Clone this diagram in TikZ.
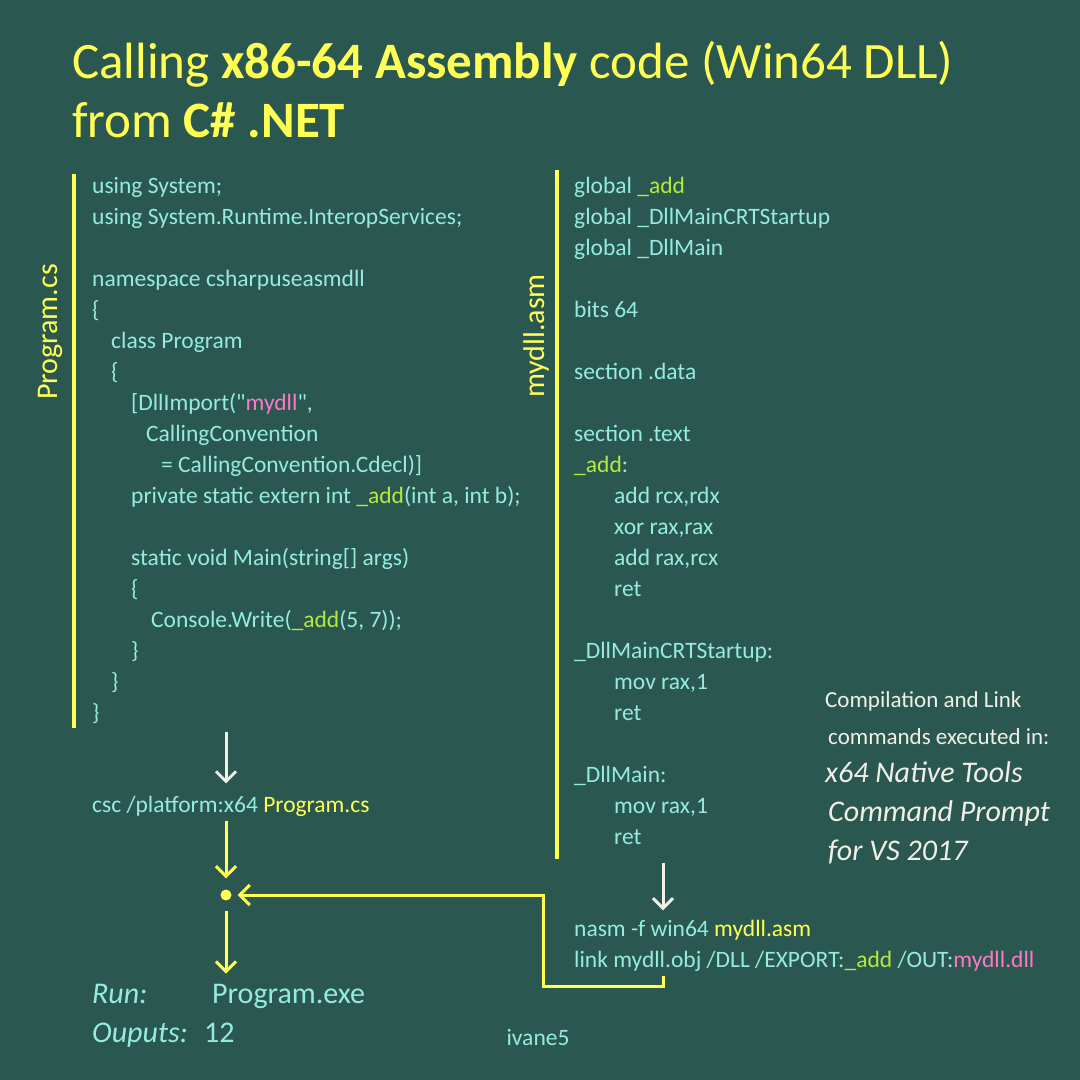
\documentclass[tikz,border=0pt]{standalone}
\usepackage{fontspec}
\setmainfont{Carlito}
\usetikzlibrary{arrows.meta}
\definecolor{bgteal}{HTML}{2A5850}
\definecolor{codecyan}{HTML}{96EBE1}
\definecolor{titleyellow}{HTML}{FFFF55}
\definecolor{addgreen}{HTML}{B4EB3C}
\definecolor{dllpink}{HTML}{FF78C8}
\definecolor{notewhite}{HTML}{F0F0E8}
\newcommand{\grn}[1]{\textcolor{addgreen}{#1}}
\newcommand{\pnk}[1]{\textcolor{dllpink}{#1}}
\newcommand{\ylw}[1]{\textcolor{titleyellow}{#1}}
\begin{document}
\begin{tikzpicture}[x=1pt,y=-1pt,every node/.style={inner sep=0},
	code/.style={font=\fontsize{23.5}{31}\selectfont,text=codecyan,align=left,anchor=north west},
	cmd/.style={font=\fontsize{23.5}{31}\selectfont,text=codecyan,anchor=base west},
	big/.style={font=\fontsize{30}{36}\selectfont,text=codecyan,anchor=base west},
	filelabel/.style={font=\fontsize{30}{36}\selectfont,text=titleyellow,rotate=90},
	bar/.style={draw=titleyellow,line width=4pt},
	warrow/.style={draw=notewhite,line width=3pt,-{Straight Barb[length=10pt,width=20pt]}},
	yarrow/.style={draw=titleyellow,line width=3pt,-{Straight Barb[length=10pt,width=20pt]}}]
\fill[bgteal] (0,0) rectangle (1080,1080);
\useasboundingbox (0,0) rectangle (1080,1080);

\node[code,font=\fontsize{51}{59}\selectfont,text=titleyellow] (title) at (72,36.7)
	{\strut Calling \textbf{x86-64 Assembly} code (Win64 DLL)\\ from \textbf{C\# .NET}};

% C# side
\node[code] (progcode) at (92,171.3) {\strut using System;\\
	using System.Runtime.InteropServices;\\[31pt]
	namespace csharpuseasmdll\\
	\{\\
	\hspace*{19pt}class Program\\
	\hspace*{19pt}\{\\
	\hspace*{39pt}[DllImport(\textquotedbl\pnk{mydll}\textquotedbl,\\
	\hspace*{54pt}CallingConvention\\
	\hspace*{69pt}= CallingConvention.Cdecl)]\\
	\hspace*{39pt}private static extern int \grn{\_add}(int a, int b);\\[31pt]
	\hspace*{39pt}static void Main(string[] args)\\
	\hspace*{39pt}\{\\
	\hspace*{59pt}Console.Write(\grn{\_add}(5, 7));\\
	\hspace*{39pt}\}\\
	\hspace*{19pt}\}\\
	\}};
\draw[bar] (74,174) -- (74,728);
\node[filelabel] (proglabel) at (50,332) {Program.cs};

% asm side
\node[code] (asmcode) at (574,171.3) {\strut global \grn{\_add}\\
	global \_DllMainCRTStartup\\
	global \_DllMain\\[31pt]
	bits 64\\[31pt]
	section .data\\[31pt]
	section .text\\
	\grn{\_add}:\\
	\hspace*{40pt}add rcx,rdx\\
	\hspace*{40pt}xor rax,rax\\
	\hspace*{40pt}add rax,rcx\\
	\hspace*{40pt}ret\\[31pt]
	\_DllMainCRTStartup:\\
	\hspace*{40pt}mov rax,1\\
	\hspace*{40pt}ret\\[31pt]
	\_DllMain:\\
	\hspace*{40pt}mov rax,1\\
	\hspace*{40pt}ret};
\draw[bar] (557,170) -- (557,859);
\node[filelabel] (asmlabel) at (536,336) {mydll.asm};

% commands
\node[cmd] (csc) at (92,812) {csc /platform:x64 \ylw{Program.cs}};
\node[code] (nasm) at (574,914.3) {\strut nasm -f win64 \ylw{mydll.asm}\\
	link mydll.obj /DLL /EXPORT:\grn{\_add} /OUT:\pnk{mydll.dll}};
\node[code,text=notewhite,font=\fontsize{23}{31}\selectfont] (notehead) at (825,685.3)
	{\strut Compilation and Link\\[6pt] \hspace*{3pt}commands executed in:};
\node[code,text=notewhite,font=\fontsize{30}{39}\selectfont\itshape] (tools) at (825,754.7)
	{\strut x64 Native Tools\\ \hspace*{3pt}Command Prompt\\ \hspace*{3pt}for VS 2017};

\node[circle,fill=titleyellow,minimum size=11pt] (join) at (226,895) {};
\coordinate (tail) at (663,986);

\node[big,font=\fontsize{30}{36}\selectfont\itshape] (run) at (92,1003) {Run:};
\node[big] (exe) at (212,1003) {Program.exe};
\node[big,font=\fontsize{30}{36}\selectfont\itshape] (outlbl) at (92,1042) {Ouputs:};
\node[big] (result) at (204,1042) {12};
\node[cmd,anchor=base] (author) at (538,1045) {ivane5};

% arrows
\draw[warrow,shorten <=8pt,shorten >=12pt] (progcode.south -| join) -- (csc.north -| join);
\draw[warrow,shorten <=18pt,shorten >=4pt] (asmcode.south -| tail) -- (nasm.north -| tail);
\draw[yarrow,shorten <=5pt,shorten >=11pt] (csc.south -| join) -- (join);
\draw[yarrow,shorten <=10pt,shorten >=10pt] (join) -- (join |- exe.north);
\draw[yarrow,shorten <=5pt,shorten >=6pt] (nasm.south -| tail) -- (tail) -- ++(-120,0) |- (join);
\end{tikzpicture}
\end{document}
